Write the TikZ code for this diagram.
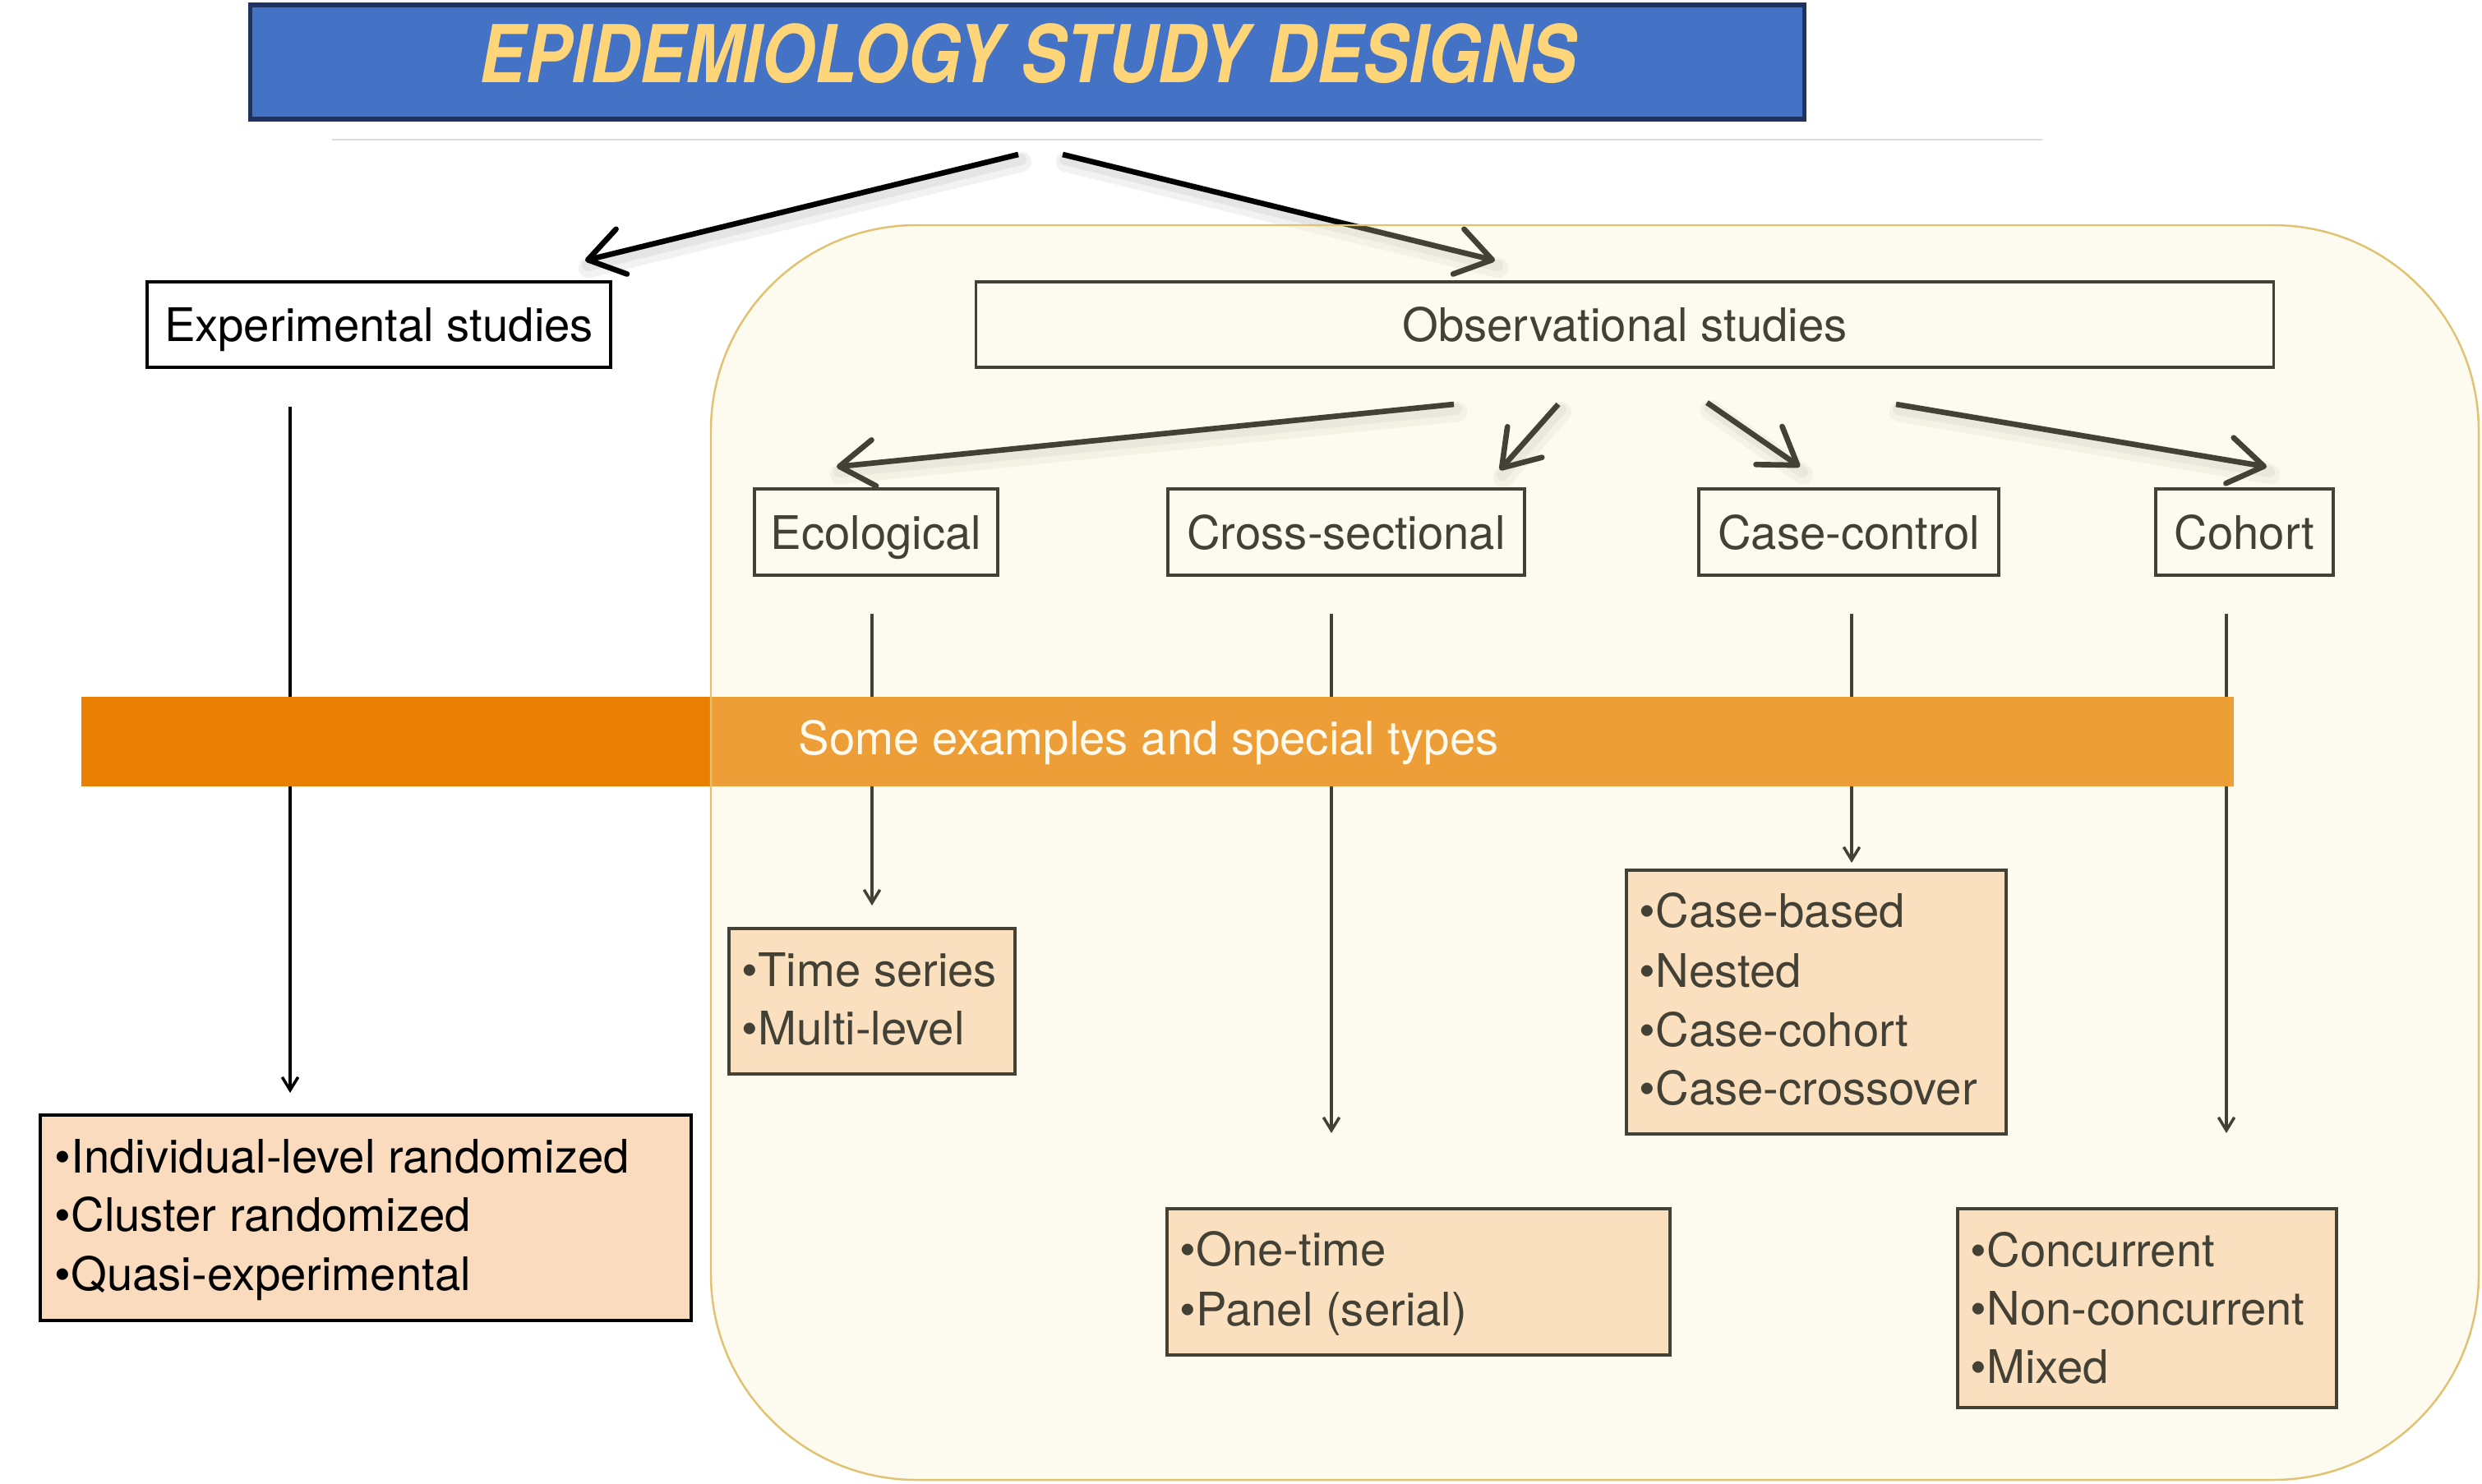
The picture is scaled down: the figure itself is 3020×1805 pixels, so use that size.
\documentclass[tikz,border=0pt]{standalone}
\usepackage{fontspec}
\usepackage{graphicx}
\setmainfont{TeX Gyre Heros}
\usetikzlibrary{arrows.meta}
\definecolor{titleblue}{HTML}{4472C4}
\definecolor{titleedge}{HTML}{1F3360}
\definecolor{titletext}{HTML}{FFD57A}
\definecolor{bandorange}{HTML}{E98003}
\definecolor{peach}{HTML}{FADBBD}
\definecolor{regionfill}{RGB}{251,240,196}
\definecolor{regionedge}{HTML}{E0C270}
\definecolor{rulegrey}{HTML}{DDDDDD}
\begin{document}
\begin{tikzpicture}[x=0.01cm,y=-0.01cm,
  headbox/.style={draw=black, line width=1.1pt, minimum height=1.04cm, text height=0.41cm, text depth=0pt, inner sep=0pt, font=\fontsize{16}{19}\selectfont},
  listbox/.style={draw=black, fill=peach, line width=1.1pt, inner sep=0pt, anchor=north west},
  item/.style={anchor=base west, inner sep=0pt, font=\fontsize{16}{19}\selectfont},
  bigarrow/.style={line width=1.9pt, -{Straight Barb[length=12pt,width=16pt,round]}},
  smallarrow/.style={line width=1pt, -{Straight Barb[length=4.5pt,width=5.5pt]}},
  shadowline/.style={line width=7pt, draw=black, draw opacity=0.05, line cap=round},
]
% canvas
\fill[white] (0,0) rectangle (3020,1805);
\useasboundingbox (0,0) rectangle (3020,1805);

% thin rule under title
\draw[rulegrey, line width=0.5pt] (404,170) -- (2485,170);

% title
\node[draw=titleedge, line width=1.6pt, fill=titleblue, minimum width=18.9cm, minimum height=1.39cm, inner sep=0pt] (title) at (1250,75.5) {};
\node[anchor=base, inner sep=0pt, text=titletext, font=\fontsize{27.6}{30}\selectfont\bfseries\itshape] (titletxt) at (1251,100) {\scalebox{0.86}[1]{EPIDEMIOLOGY STUDY DESIGNS}};

% heading boxes
\node[headbox, minimum width=5.64cm] (exp) at (461,395) {Experimental studies};
\node[headbox, minimum width=15.78cm] (obs) at (1977,395) {Observational studies};
\node[headbox, minimum width=2.95cm, minimum height=1.05cm] (eco) at (1066,647.5) {Ecological};
\node[headbox, minimum width=4.34cm, minimum height=1.05cm] (cross) at (1638,647.5) {Cross-sectional};
\node[headbox, minimum width=3.65cm, minimum height=1.05cm] (cc) at (2249.5,647.5) {Case-control};
\node[headbox, minimum width=2.16cm, minimum height=1.05cm] (coh) at (2731,647.5) {Cohort};

% connector end points
\coordinate (tL) at (1239,188);
\coordinate (tR) at (1293,188);
\coordinate (eL) at (712,317);
\coordinate (eR) at (1819,317);
\coordinate (o1) at (1769,492);
\coordinate (o2) at (1896,492);
\coordinate (o3) at (2077,490);
\coordinate (o4) at (2307,492);
\coordinate (e1) at (1018,568);
\coordinate (e2) at (1825,572);
\coordinate (e3) at (2190,568);
\coordinate (e4) at (2758,568);
\coordinate (vExpA) at (353,495);
\coordinate (vExpB) at (353,1330);
\coordinate (vEcoA) at (1061,747);
\coordinate (vEcoB) at (1061,1102);
\coordinate (vCrsA) at (1620,747);
\coordinate (vCrsB) at (1620,1379);
\coordinate (vCcA) at (2253,747);
\coordinate (vCcB) at (2253,1050);
\coordinate (vCohA) at (2709,747);
\coordinate (vCohB) at (2709,1379);

% arrow shadows
\foreach \a/\b in {tL/eL, tR/eR, o1/e1, o2/e2, o3/e3, o4/e4}{
  \draw[shadowline] ([shift={(4,9)}]\a) -- ([shift={(4,9)}]\b);
  \draw[shadowline, line width=4pt] ([shift={(3,6)}]\a) -- ([shift={(3,6)}]\b);
}

% big arrows
\draw[bigarrow] (tL) -- (eL);
\draw[bigarrow] (tR) -- (eR);
\draw[bigarrow] (o1) -- (e1);
\draw[bigarrow] (o2) -- (e2);
\draw[bigarrow] (o3) -- (e3);
\draw[bigarrow] (o4) -- (e4);

% vertical connectors
\draw[smallarrow] (vExpA) -- (vExpB);
\draw[smallarrow] (vEcoA) -- (vEcoB);
\draw[smallarrow] (vCrsA) -- (vCrsB);
\draw[smallarrow] (vCcA) -- (vCcB);
\draw[smallarrow] (vCohA) -- (vCohB);

% orange band
\node[fill=bandorange, minimum width=26.18cm, minimum height=1.09cm, anchor=north west, inner sep=0pt] (band) at (98,847) {};
\node[item, text=white] (bandtxt) at (971,918) {Some examples and special types};

% list boxes
\node[listbox, minimum width=7.92cm, minimum height=2.5cm] (explist) at (47,1355) {};
\node[item] (x1) at (66,1427) {\textbullet Individual-level randomized};
\node[item] (x2) at (66,1498) {\textbullet Cluster randomized};
\node[item] (x3) at (66,1570) {\textbullet Quasi-experimental};

\node[listbox, minimum width=3.48cm, minimum height=1.77cm] (tslist) at (885,1128) {};
\node[item] (t1) at (902,1200) {\textbullet Time series};
\node[item] (t2) at (902,1271) {\textbullet Multi-level};

\node[listbox, minimum width=6.12cm, minimum height=1.78cm] (cslist) at (1418,1469) {};
\node[item] (s1) at (1435,1540) {\textbullet One-time};
\node[item] (s2) at (1435,1613) {\textbullet Panel (serial)};

\node[listbox, minimum width=4.62cm, minimum height=3.21cm] (cclist) at (1977,1057) {};
\node[item] (c1) at (1994,1128) {\textbullet Case-based};
\node[item] (c2) at (1994,1201) {\textbullet Nested};
\node[item] (c3) at (1994,1273) {\textbullet Case-cohort};
\node[item] (c4) at (1994,1344) {\textbullet Case-crossover};

\node[listbox, minimum width=4.61cm, minimum height=2.42cm] (cohlist) at (2380,1469) {};
\node[item] (h1) at (2397,1541) {\textbullet Concurrent};
\node[item] (h2) at (2397,1612) {\textbullet Non-concurrent};
\node[item] (h3) at (2397,1683) {\textbullet Mixed};

% translucent observational region on top
\draw[draw=regionedge, line width=0.7pt, fill=regionfill, fill opacity=0.27, rounded corners=2.5cm] (865,274) rectangle (3016,1801);
\end{tikzpicture}
\end{document}
